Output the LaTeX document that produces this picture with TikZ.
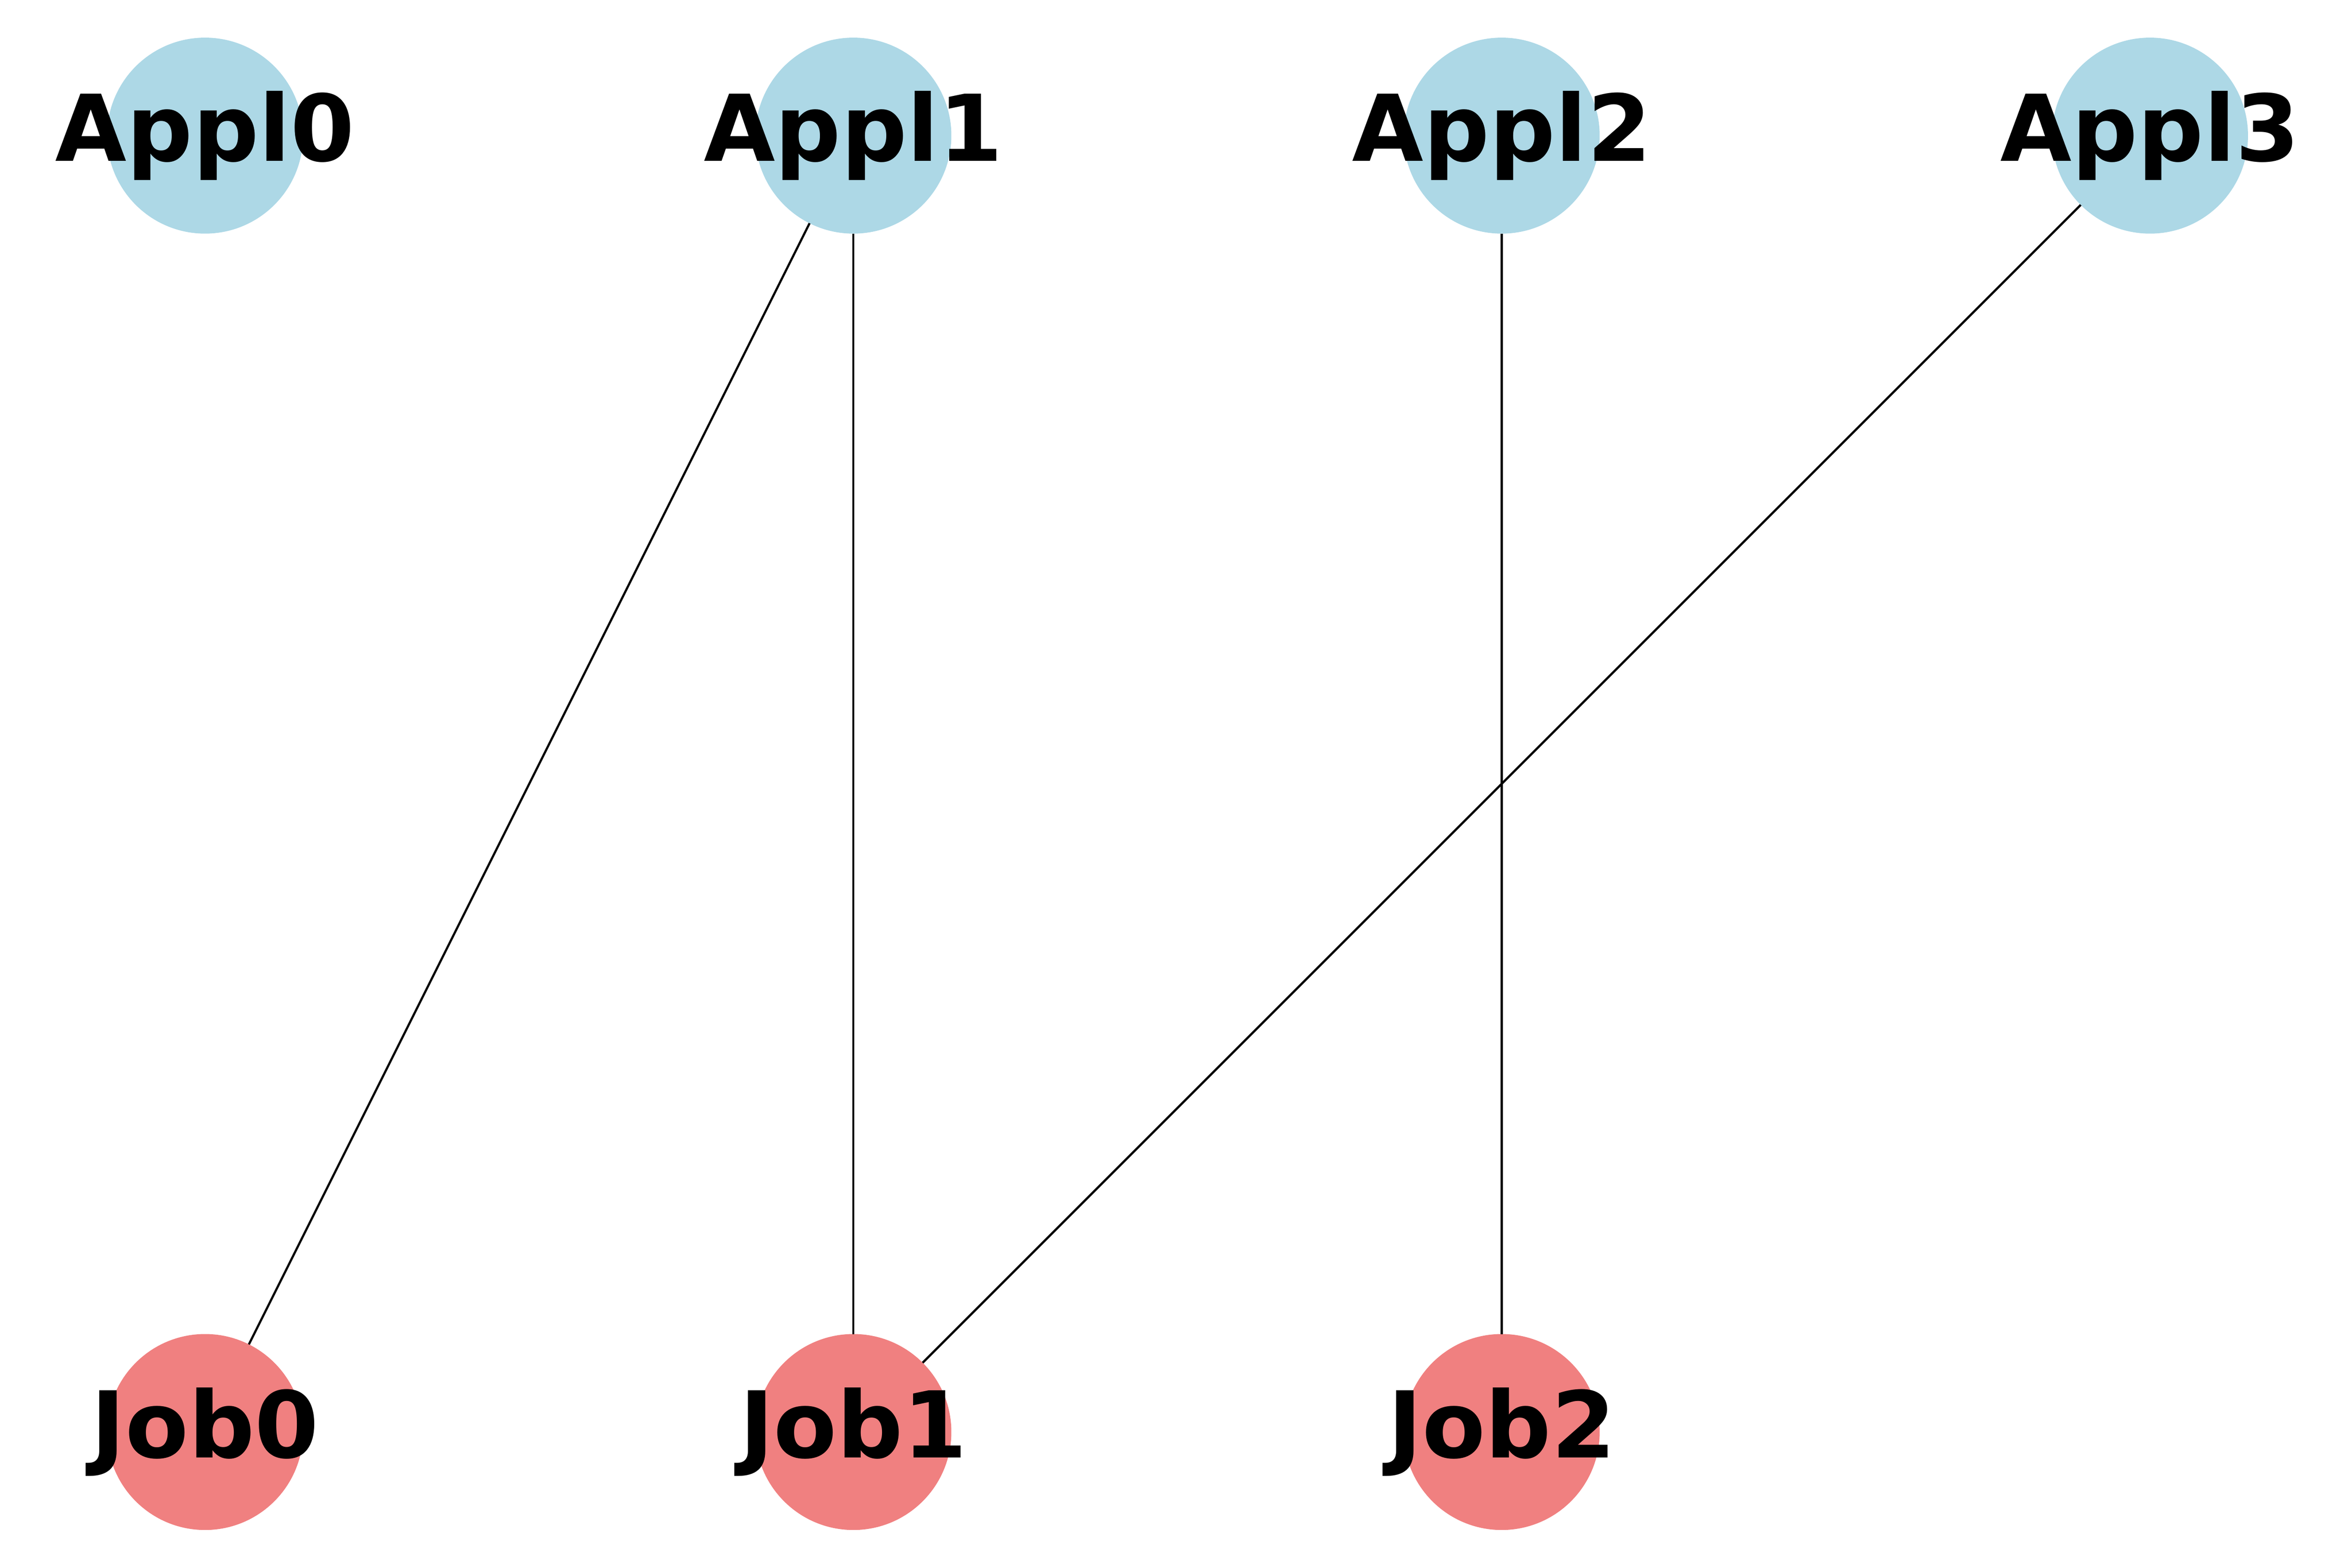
\documentclass[tikz,border=0pt]{standalone}
\usepackage{fontspec}
\setmainfont{DejaVu Sans}
\usepackage{tikz}
\usetikzlibrary{positioning}
\definecolor{lightblue}{RGB}{173,216,230}
\definecolor{lightcoral}{RGB}{240,128,128}
\tikzstyle{appl} = [circle, fill=lightblue, minimum size=1.3cm, inner sep=0pt, outer sep=0pt]
\tikzstyle{job} = [circle, fill=lightcoral, minimum size=1.3cm, inner sep=0pt, outer sep=0pt]
\tikzstyle{lbl} = [font=\fontsize{17.4}{20}\selectfont\bfseries, inner sep=0pt]
\tikzstyle{line} = [draw, line width=0.41pt]
\begin{document}
\begin{tikzpicture}
    \useasboundingbox (0,0) rectangle (15.6,10.4);
    \node [appl] (appl0) at (1.36,9.5) {};
    \node [appl, right=3.0cm of appl0] (appl1) {};
    \node [appl, right=3.0cm of appl1] (appl2) {};
    \node [appl, right=3.0cm of appl2] (appl3) {};
    \node [job, below=7.3cm of appl0] (job0) {};
    \node [job, below=7.3cm of appl1] (job1) {};
    \node [job, below=7.3cm of appl2] (job2) {};
    \path [line] (appl1) -- (job0);
    \path [line] (appl1) -- (job1);
    \path [line] (appl2) -- (job2);
    \path [line] (appl3) -- (job1);
    \node [lbl] (appl0t) at (appl0) {Appl0};
    \node [lbl] (appl1t) at (appl1) {Appl1};
    \node [lbl] (appl2t) at (appl2) {Appl2};
    \node [lbl] (appl3t) at (appl3) {Appl3};
    \node [lbl] (job0t) at (job0) {Job0};
    \node [lbl] (job1t) at (job1) {Job1};
    \node [lbl] (job2t) at (job2) {Job2};
\end{tikzpicture}
\end{document}
